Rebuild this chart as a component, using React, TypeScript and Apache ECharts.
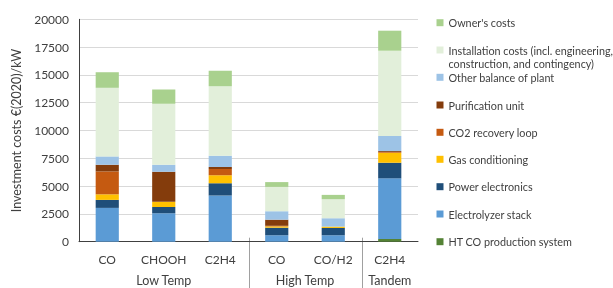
import React, { useEffect, useRef } from 'react';
import * as echarts from 'echarts';

const categories = ['CO', 'CHOOH', 'C2H4', 'CO', 'CO/H2', 'C2H4'];
const groupNames = ['Low Temp', 'High Temp', 'Tandem'];
const groupSizes = [3, 2, 1];

const seriesNames = [
  'HT CO production system',
  'Electrolyzer stack',
  'Power electronics',
  'Gas conditioning',
  'CO2 recovery loop',
  'Purification unit',
  'Other balance of plant',
  'Installation costs (incl. engineering, construction, and contingency)',
  "Owner's costs",
];

const htCoProduction = [0, 0, 0, 0, 0, 250];
const electrolyzerStack = [3040, 2550, 4150, 580, 580, 5450];
const powerElectronics = [720, 570, 1100, 680, 660, 1400];
const gasConditioning = [500, 470, 720, 120, 120, 900];
const co2RecoveryLoop = [2060, 0, 570, 50, 0, 70];
const purificationUnit = [600, 2700, 180, 550, 0, 80];
const otherBalanceOfPlant = [750, 630, 1020, 760, 750, 1355];
const installationCosts = [6170, 5480, 6230, 2190, 1710, 7670];
const ownersCosts = [1400, 1290, 1400, 430, 390, 1800];

const seriesValues = [
  htCoProduction,
  electrolyzerStack,
  powerElectronics,
  gasConditioning,
  co2RecoveryLoop,
  purificationUnit,
  otherBalanceOfPlant,
  installationCosts,
  ownersCosts,
];

const colors = ['#548235', '#5B9BD5', '#1F4E79', '#FFC000', '#C55A11', '#843C0C', '#9DC3E6', '#E2EFDA', '#A9D18E'];
const legendCenters = [241.7, 214, 186.7, 159.3, 132.3, 105, 77.3, 50, 22.7];

const FONT = "Lato, 'Open Sans', sans-serif";
const TEXT = '#404040';

export default function App() {
  const ref = useRef<HTMLDivElement>(null);
  useEffect(() => {
    const chart = echarts.init(ref.current!, null, { renderer: 'svg' });
    const installName = seriesNames[7];
    const option: any = {
      animation: false,
      textStyle: { fontFamily: FONT },
      grid: { left: 79, right: 195, top: 19.3, bottom: 46.3, containLabel: false },
      xAxis: {
        type: 'category',
        data: categories,
        axisLine: { lineStyle: { color: '#404040', width: 1 } },
        axisTick: { inside: true, length: 4, interval: 0, lineStyle: { color: '#404040' } },
        axisLabel: { color: TEXT, fontSize: 12, fontFamily: FONT, margin: 12, interval: 0 },
      },
      yAxis: {
        type: 'value',
        min: 0,
        max: 20000,
        interval: 2500,
        name: 'Investment costs €(2020)/kW',
        nameLocation: 'middle',
        nameGap: 54,
        nameTextStyle: { color: TEXT, fontSize: 12.5, fontFamily: FONT },
        axisLine: { show: true, lineStyle: { color: '#404040', width: 1 } },
        axisTick: { show: false },
        axisLabel: { color: TEXT, fontSize: 12, fontFamily: FONT, margin: 10, formatter: (v: number) => String(v) },
        splitLine: { lineStyle: { color: '#D9D9D9', width: 1 } },
      },
      legend: seriesNames
        .map((name, i) => ({
          show: true,
          data: [name],
          orient: 'vertical',
          left: 436.5,
          top: legendCenters[i] - 7,
          padding: 0,
          itemWidth: 7,
          itemHeight: 7,
          icon: 'rect',
          selectedMode: true,
          formatter: (n: string) => (n === installName ? 'Installation costs (incl. engineering,' : n),
          textStyle: { color: TEXT, fontSize: 10.8, fontFamily: FONT, lineHeight: 14 },
        }))
        .reverse(),
      series: seriesNames.map((name, i) => ({
        name,
        type: 'bar',
        stack: 'total',
        barWidth: '41%',
        data: seriesValues[i],
        itemStyle: { color: colors[i] },
        emphasis: { disabled: true },
      })),
    };
    chart.setOption(option);

    const centers = categories.map((_, i) => chart.convertToPixel({ xAxisIndex: 0 }, i) as number);
    const half = (centers[1] - centers[0]) / 2;
    const axisY = chart.convertToPixel({ yAxisIndex: 0 }, 0) as number;
    const H = chart.getHeight();
    const graphics: any[] = [];
    let start = 0;
    groupNames.forEach((g, gi) => {
      const end = start + groupSizes[gi];
      const left = centers[start] - half;
      const right = centers[end - 1] + half;
      graphics.push({
        type: 'text',
        x: (left + right) / 2,
        y: 280,
        style: { text: g, fontSize: 12.5, fontFamily: FONT, fill: TEXT, align: 'center', verticalAlign: 'middle' },
      });
      if (gi > 0) {
        graphics.push({
          type: 'line',
          shape: { x1: Math.round(left) + 0.5, y1: axisY - 4, x2: Math.round(left) + 0.5, y2: H },
          style: { stroke: '#A0A0A0', lineWidth: 1 },
        });
      }
      start = end;
    });
    graphics.push({
      type: 'text',
      x: 448.5,
      y: 63.3,
      style: {
        text: 'construction, and contingency)',
        fontSize: 10.8,
        fontFamily: FONT,
        fill: TEXT,
        align: 'left',
        verticalAlign: 'middle',
      },
    });
    chart.setOption({ graphic: graphics });
    return () => chart.dispose();
  }, []);
  return <div ref={ref} style={{ position: 'fixed', left: 0, top: 0, width: 613, height: 288 }} />;
}
